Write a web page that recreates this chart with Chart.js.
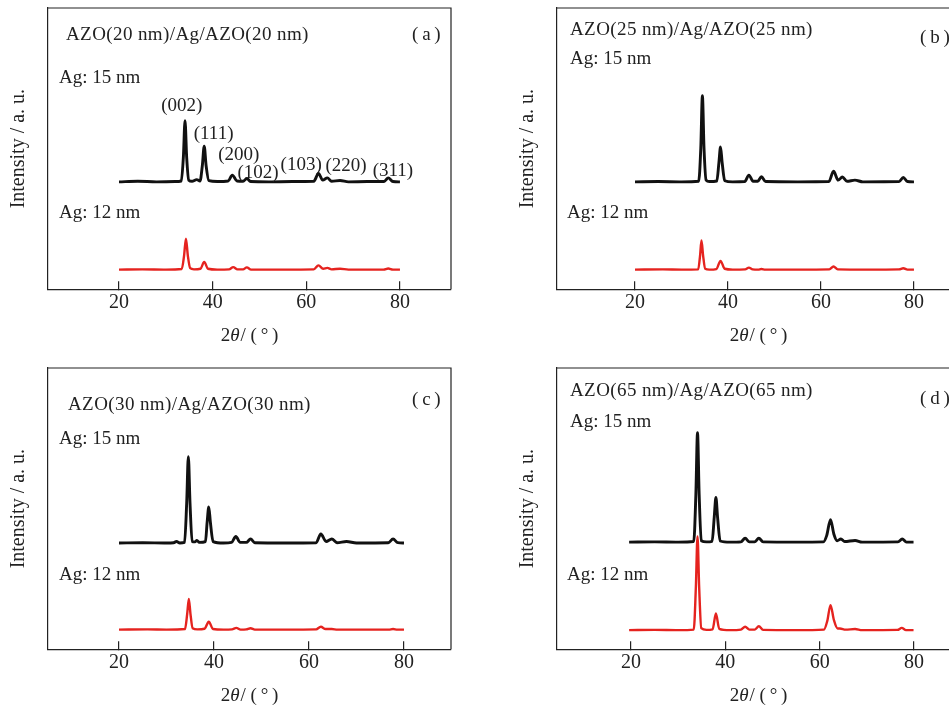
<!DOCTYPE html>
<html>
<head>
<meta charset="utf-8">
<script src="https://cdn.jsdelivr.net/npm/chart.js@4.4.0/dist/chart.umd.min.js"></script>
<style>
  body { margin: 0; background: #fff; width: 949px; height: 708px; overflow: hidden; position: relative; }
  canvas { position: absolute; }
</style>
</head>
<body>
<canvas id="chartA" width="470" height="354" style="left:0px;top:0px"></canvas>
<canvas id="chartB" width="470" height="354" style="left:509px;top:0px"></canvas>
<canvas id="chartC" width="470" height="354" style="left:0px;top:360px"></canvas>
<canvas id="chartD" width="470" height="354" style="left:509px;top:360px"></canvas>
<script>
const serif = '"Liberation Serif", "DejaVu Serif", serif';
const xTicks = [20, 40, 60, 80];

// (a) AZO(20 nm)/Ag/AZO(20 nm)
const thetaA15 = [20, 24, 28, 32, 33.3, 33.75, 34.1, 34.45, 34.9, 35.6, 36.6, 37.3, 37.8, 38.2, 38.6, 39.2, 41, 43.3, 44.2, 45.2, 46.5, 47.3, 48.1, 52, 57, 61.6, 62.6, 63.5, 64.5, 65.4, 67.2, 69, 73, 76.6, 77.5, 78.5, 80];
const intA15 = [38.2, 38.4, 38.2, 38.3, 38.5, 47, 59.9, 47, 38.8, 38.4, 39.0, 38.5, 44, 50.9, 44, 38.6, 38.3, 38.5, 40.6, 38.5, 38.4, 39.4, 38.3, 38.2, 38.3, 38.4, 41.2, 38.8, 39.6, 38.4, 38.7, 38.2, 38.3, 38.3, 39.6, 38.3, 38.2];
const thetaA12 = [20, 25, 30, 33.4, 33.9, 34.3, 34.7, 35.2, 36, 37.4, 38.2, 39.0, 41, 43.5, 44.4, 45.3, 46.5, 47.3, 48.2, 55, 61.6, 62.6, 63.6, 64.5, 65.4, 67.2, 69, 76.5, 77.5, 78.5, 80];
const intA12 = [7.0, 7.1, 7.0, 7.2, 12, 18.0, 12, 7.5, 7.1, 7.3, 9.7, 7.3, 7.0, 7.1, 7.9, 7.1, 7.1, 7.8, 7.0, 7.0, 7.1, 8.5, 7.3, 7.6, 7.1, 7.3, 7.0, 7.0, 7.4, 7.0, 7.0];

// (b) AZO(25 nm)/Ag/AZO(25 nm)
const thetaB15 = [20, 25, 30, 33.7, 34.15, 34.5, 34.85, 35.3, 36, 37.6, 38.05, 38.4, 38.75, 39.3, 41, 43.6, 44.5, 45.4, 46.4, 47.2, 48.1, 55, 61.7, 62.7, 63.7, 64.6, 65.6, 67.3, 69, 76.8, 77.7, 78.6, 80];
const intB15 = [38.2, 38.3, 38.2, 38.4, 50, 68.8, 50, 38.8, 38.3, 38.5, 45, 50.6, 45, 38.6, 38.2, 38.3, 40.6, 38.4, 38.4, 40.0, 38.3, 38.2, 38.3, 42.0, 38.8, 39.9, 38.4, 38.8, 38.2, 38.3, 39.8, 38.3, 38.2];
const thetaB12 = [20, 26, 30, 33.6, 34.0, 34.3, 34.65, 35.1, 36, 37.5, 38.4, 39.3, 41, 43.7, 44.5, 45.3, 46.5, 47.2, 48, 55, 61.8, 62.7, 63.6, 70, 76.8, 77.7, 78.6, 80];
const intB12 = [7.0, 7.1, 7.0, 7.1, 12, 17.4, 12, 7.3, 7.0, 7.2, 10.1, 7.3, 7.0, 7.1, 7.7, 7.1, 7.0, 7.2, 7.0, 7.0, 7.1, 8.1, 7.1, 7.0, 7.1, 7.5, 7.0, 7.0];

// (c) AZO(30 nm)/Ag/AZO(30 nm)
const thetaC15 = [20, 25, 30, 31.5, 32.1, 32.8, 33.8, 34.25, 34.6, 34.95, 35.4, 36.0, 36.4, 36.9, 38.2, 38.55, 38.9, 39.25, 39.8, 42, 43.7, 44.6, 45.5, 46.8, 47.7, 48.6, 55, 61.5, 62.5, 63.6, 64.8, 65.9, 67.9, 70, 76.7, 77.7, 78.7, 80];
const intC15 = [37.8, 37.9, 37.8, 37.9, 38.3, 37.8, 38.0, 52, 68.5, 52, 38.3, 38.2, 38.7, 38.0, 38.3, 45, 50.6, 45, 38.3, 37.8, 38.0, 40.1, 38.0, 38.0, 39.2, 37.9, 37.8, 37.9, 41.0, 38.3, 39.2, 37.9, 38.3, 37.8, 37.9, 39.2, 37.9, 37.8];
const thetaC12 = [20, 26, 30, 33.9, 34.35, 34.7, 35.05, 35.5, 36.5, 38.0, 38.9, 39.8, 42, 43.8, 44.7, 45.6, 46.8, 47.7, 48.6, 55, 61.5, 62.5, 63.5, 64.8, 66, 76.8, 77.7, 78.6, 80];
const intC12 = [7.0, 7.1, 7.0, 7.2, 12.5, 17.9, 12.5, 7.5, 7.1, 7.3, 9.8, 7.2, 7.0, 7.1, 7.6, 7.0, 7.1, 7.5, 7.0, 7.0, 7.1, 8.0, 7.2, 7.2, 7.0, 7.0, 7.2, 7.0, 7.0];

// (d) AZO(65 nm)/Ag/AZO(65 nm)
const thetaD15 = [19.6, 25, 30, 33.3, 33.75, 34.1, 34.45, 34.9, 36, 37.2, 37.65, 38.0, 38.35, 38.9, 41, 43.3, 44.2, 45.1, 46.2, 47.1, 48.0, 55, 60.8, 61.5, 62.3, 63.0, 63.7, 64.5, 65.3, 67.5, 69, 76.6, 77.5, 78.4, 79.9];
const intD15 = [38.1, 38.2, 38.1, 38.3, 55, 77.0, 55, 38.6, 38.2, 38.4, 47, 54.0, 47, 38.5, 38.1, 38.2, 39.5, 38.2, 38.2, 39.5, 38.2, 38.1, 38.2, 40.5, 46.1, 41, 38.6, 39.2, 38.3, 38.7, 38.1, 38.2, 39.2, 38.1, 38.1];
const thetaD12 = [19.6, 25, 30, 33.3, 33.75, 34.1, 34.45, 34.9, 36, 37.3, 38.0, 38.7, 41, 43.3, 44.2, 45.1, 46.2, 47.1, 48.0, 55, 60.9, 61.6, 62.3, 63.0, 63.8, 64.3, 65.5, 67.5, 69, 76.5, 77.4, 78.3, 79.9];
const intD12 = [6.8, 6.9, 6.8, 7.0, 22, 40.1, 22, 7.5, 6.9, 7.1, 12.7, 7.3, 6.8, 7.0, 8.0, 7.0, 7.0, 8.2, 6.9, 6.8, 7.0, 10, 15.7, 10.5, 7.4, 7.4, 7.0, 7.2, 6.8, 6.9, 7.6, 6.8, 6.8];

// hkl labels of panel (a)
const peakLabels = ["(002)", "(111)", "(200)", "(102)", "(103)", "(220)", "(311)"];
const peakLabelTheta = [33.4, 40.2, 45.6, 49.7, 58.9, 68.5, 78.5];
const peakLabelInt = [65.1, 55.3, 47.7, 41.5, 44.1, 43.8, 42.0];

function toPoints(xs, ys) {
  return xs.map((x, i) => ({ x: x, y: ys[i] }));
}

// frame top/right edges, panel texts, x-axis title with italic theta
const panelText = {
  id: "panelText",
  afterDraw(chart, args, opts) {
    const ctx = chart.ctx;
    const area = chart.chartArea;
    ctx.save();
    ctx.strokeStyle = "#222";
    ctx.lineWidth = 1.2;
    ctx.beginPath();
    ctx.moveTo(area.left, area.top);
    ctx.lineTo(area.right, area.top);
    ctx.lineTo(area.right, area.bottom);
    ctx.stroke();

    ctx.fillStyle = "#222";
    ctx.textBaseline = "middle";
    ctx.textAlign = "left";
    ctx.font = "19px " + serif;
    ctx.letterSpacing = "0.4px";
    ctx.fillText(opts.title, opts.titleAt[0], opts.titleAt[1]);
    ctx.letterSpacing = "0px";
    ctx.fillText("Ag: 15 nm", opts.ag15At[0], opts.ag15At[1]);
    ctx.fillText("Ag: 12 nm", opts.ag12At[0], opts.ag12At[1]);
    ctx.fillText(opts.tag, opts.tagAt[0], opts.tagAt[1]);

    if (opts.peaks) {
      ctx.textAlign = "center";
      const xs = chart.scales.x, ys = chart.scales.y;
      peakLabels.forEach((t, i) => {
        ctx.fillText(t, xs.getPixelForValue(peakLabelTheta[i]), ys.getPixelForValue(peakLabelInt[i]));
      });
    }

    // 2θ/(°)
    const fN = "19px " + serif, fI = "italic 19px " + serif;
    const p1 = "2", p2 = "\u03b8", p3 = "/ (\u2009\u00b0\u2009)";
    ctx.font = fN; const w1 = ctx.measureText(p1).width, w3 = ctx.measureText(p3).width;
    ctx.font = fI; const w2 = ctx.measureText(p2).width;
    let x0 = (area.left + area.right) / 2 - (w1 + w2 + w3 + 1) / 2;
    const yT = 336;
    ctx.textAlign = "left";
    ctx.font = fN; ctx.fillText(p1, x0, yT); x0 += w1;
    ctx.font = fI; ctx.fillText(p2, x0, yT); x0 += w2 + 1;
    ctx.font = fN; ctx.fillText(p3, x0, yT);
    ctx.restore();
  }
};

function makeChart(id, curve15, curve12, xMin, xMax, text) {
  return new Chart(document.getElementById(id).getContext("2d"), {
    type: "line",
    data: {
      datasets: [
        { data: curve15, borderColor: "#111", borderWidth: 2.9, pointRadius: 0, cubicInterpolationMode: "monotone" },
        { data: curve12, borderColor: "#e5231f", borderWidth: 2.4, pointRadius: 0, cubicInterpolationMode: "monotone" }
      ]
    },
    options: {
      responsive: false,
      animation: false,
      layout: { padding: { left: 6.6, top: 8, right: 19, bottom: 29.3 } },
      plugins: {
        legend: { display: false },
        tooltip: { enabled: false },
        panelText: text
      },
      scales: {
        x: {
          type: "linear",
          min: xMin,
          max: xMax,
          afterBuildTicks: (axis) => { axis.ticks = xTicks.map((v) => ({ value: v })); },
          grid: { drawOnChartArea: false, drawTicks: true, tickLength: -8, color: "#222", lineWidth: 1.2 },
          border: { display: true, color: "#222", width: 1.2 },
          ticks: { color: "#222", padding: 9.7, font: { family: serif, size: 20 }, maxRotation: 0 }
        },
        y: {
          min: 0,
          max: 100,
          grid: { display: false, drawTicks: false },
          border: { display: true, color: "#222", width: 1.2 },
          ticks: { display: false },
          title: {
            display: true,
            text: "Intensity / a. u.",
            color: "#222",
            font: { family: serif, size: 20 },
            padding: { top: 0, bottom: 17.4 }
          }
        }
      }
    },
    plugins: [panelText]
  });
}

makeChart("chartA", toPoints(thetaA15, intA15), toPoints(thetaA12, intA12), 4.84, 90.9, {
  title: "AZO(20 nm)/Ag/AZO(20 nm)", titleAt: [66, 35], tag: "(\u2009a\u2009)", tagAt: [412, 35],
  ag15At: [59, 78], ag12At: [59, 213], peaks: true
});
makeChart("chartB", toPoints(thetaB15, intB15), toPoints(thetaB12, intB12), 3.23, 89.9, {
  title: "AZO(25 nm)/Ag/AZO(25 nm)", titleAt: [61, 30], tag: "(\u2009b\u2009)", tagAt: [411, 38],
  ag15At: [61, 59], ag12At: [58, 213], peaks: false
});
makeChart("chartC", toPoints(thetaC15, intC15), toPoints(thetaC12, intC12), 5.05, 89.9, {
  title: "AZO(30 nm)/Ag/AZO(30 nm)", titleAt: [68, 45], tag: "(\u2009c\u2009)", tagAt: [412, 40],
  ag15At: [59, 79], ag12At: [59, 215], peaks: false
});
makeChart("chartD", toPoints(thetaD15, intD15), toPoints(thetaD12, intD12), 4.31, 89.75, {
  title: "AZO(65 nm)/Ag/AZO(65 nm)", titleAt: [61, 31], tag: "(\u2009d\u2009)", tagAt: [411, 39],
  ag15At: [61, 62], ag12At: [58, 215], peaks: false
});
</script>
</body>
</html>
